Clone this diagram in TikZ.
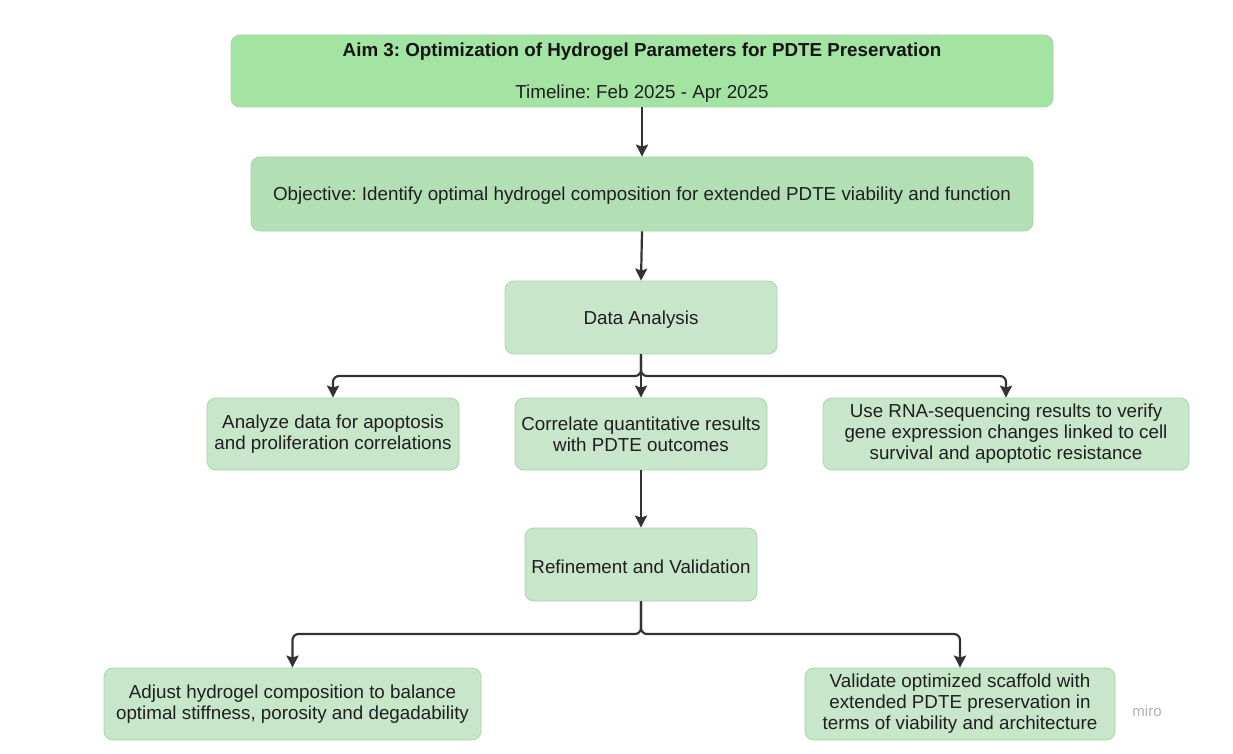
\documentclass[tikz,border=0pt]{standalone}
\usepackage{fontspec}
\setmainfont{Liberation Sans}
\usetikzlibrary{arrows.meta}
\definecolor{topg}{HTML}{A3E4A3}
\definecolor{objg}{HTML}{B3DFB5}
\definecolor{boxg}{HTML}{C8E6C9}
\definecolor{edgeg}{HTML}{A5D6A7}
\definecolor{linec}{HTML}{333333}
\frenchspacing
\begin{document}
\begin{tikzpicture}[x=1pt,y=-1pt,
  box/.style={draw=edgeg, line width=0.8pt, rounded corners=9pt, fill=boxg, inner sep=0pt, align=center, font=\fontsize{18.8}{21}\selectfont, text=black!88, execute at begin node={\rule{0pt}{17.5pt}}},
  conn/.style={draw=linec, line width=2.2pt, -{Stealth[length=12pt,width=12pt,inset=2pt]}, rounded corners=6pt}]
\useasboundingbox (0,0) rectangle (1233,754);
\fill[white] (0,0) rectangle (1233,754);
% nodes
\node[box, fill=topg, minimum width=822pt, minimum height=72pt] (aim) at (642,71) {};
\node[font=\fontsize{18.8}{21}\selectfont\bfseries, text=black!92] (aimt) at (642,51.5) {Aim 3: Optimization of Hydrogel Parameters for PDTE Preservation};
\node[font=\fontsize{18.8}{21}\selectfont, text=black!88] (aimd) at (642,93.5) {Timeline: Feb 2025 - Apr 2025};
\node[box, fill=objg, minimum width=782pt, minimum height=74pt] (obj) at (642,194) {Objective: Identify optimal hydrogel composition for extended PDTE viability and function};
\node[box, minimum width=272pt, minimum height=73pt] (da) at (641,317.5) {Data Analysis};
\node[box, minimum width=252pt, minimum height=72pt] (an) at (333,434) {Analyze data for apoptosis\\and proliferation correlations};
\node[box, minimum width=252pt, minimum height=72pt] (co) at (641,434) {Correlate quantitative results\\with PDTE outcomes};
\node[box, minimum width=366pt, minimum height=72pt] (rna) at (1006,434) {Use RNA-sequencing results to verify\\gene expression changes linked to cell\\survival and apoptotic resistance};
\node[box, minimum width=232pt, minimum height=73pt] (rv) at (641,564.5) {Refinement and Validation};
\node[box, minimum width=377pt, minimum height=72pt] (adj) at (292.5,704) {Adjust hydrogel composition to balance\\optimal stiffness, porosity and degadability};
\node[box, minimum width=310pt, minimum height=72pt] (val) at (960,704) {Validate optimized scaffold with\\extended PDTE preservation in\\terms of viability and architecture};
\node[font=\fontsize{15}{17}\selectfont, text=black!30] (miro) at (1147,711) {miro};
% connectors
\draw[conn] (aim.south) -- (obj.north);
\draw[conn] (obj.south) -- (da.north);
\coordinate (b1) at (641,376);
\draw[conn] (da.south) -- (b1) -| (an.north);
\draw[conn] (da.south) -- (co.north);
\draw[conn] (da.south) -- (b1) -| (rna.north);
\coordinate (b2) at (641,634);
\draw[conn] (rv.south) -- (b2) -| (adj.north);
\draw[conn] (rv.south) -- (b2) -| (val.north);
\draw[conn] (co.south) -- (rv.north);
\end{tikzpicture}
\end{document}
